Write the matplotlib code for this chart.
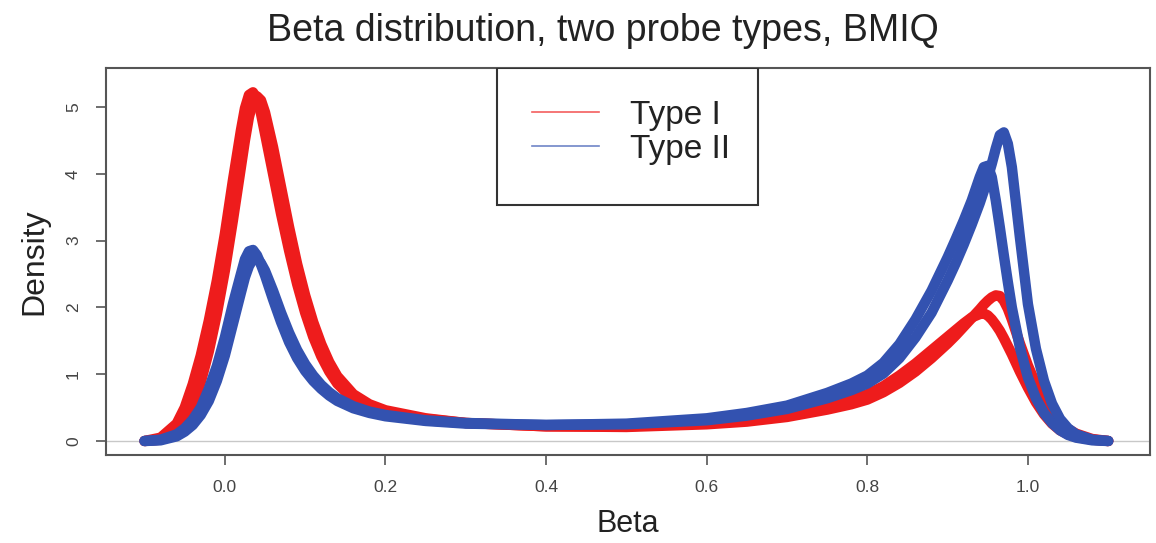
import matplotlib
matplotlib.use("Agg")
import matplotlib.pyplot as plt
from matplotlib.lines import Line2D
from matplotlib.patches import Rectangle

plt.rcParams['font.family'] = ['Liberation Sans', 'DejaVu Sans']

# ---- data ----
beta_grid = [-0.10, -0.08, -0.06, -0.05, -0.04, -0.03, -0.02, -0.01, 0.00, 0.01,
             0.02, 0.025, 0.03, 0.035, 0.04, 0.045, 0.05, 0.06, 0.07, 0.08,
             0.09, 0.10, 0.11, 0.12, 0.13, 0.14, 0.16, 0.18, 0.20, 0.25,
             0.30, 0.40, 0.50, 0.60, 0.65, 0.70, 0.75, 0.78, 0.80, 0.82,
             0.84, 0.86, 0.88, 0.90, 0.91, 0.92, 0.93, 0.94, 0.945, 0.95,
             0.955, 0.96, 0.965, 0.97, 0.975, 0.98, 0.99, 1.00, 1.01, 1.02,
             1.03, 1.04, 1.05, 1.06, 1.08, 1.10]

# Type I (red) - two groups of samples
type1_group_a = [0.0, 0.05, 0.26, 0.50, 0.85, 1.28, 1.80, 2.40, 3.10, 3.90,
                 4.65, 4.98, 5.18, 5.22, 5.12, 4.90, 4.60, 4.00, 3.40, 2.85,
                 2.35, 1.92, 1.56, 1.27, 1.04, 0.86, 0.62, 0.50, 0.43, 0.33,
                 0.27, 0.22, 0.22, 0.27, 0.32, 0.40, 0.52, 0.62, 0.70, 0.82,
                 0.98, 1.16, 1.36, 1.56, 1.66, 1.76, 1.85, 1.90, 1.91, 1.88,
                 1.82, 1.74, 1.65, 1.54, 1.42, 1.30, 1.04, 0.80, 0.58, 0.40,
                 0.26, 0.16, 0.10, 0.06, 0.02, 0.0]
type1_group_b = [0.0, 0.02, 0.12, 0.26, 0.52, 0.88, 1.34, 1.90, 2.55, 3.30,
                 4.10, 4.50, 4.85, 5.08, 5.16, 5.10, 4.92, 4.40, 3.80, 3.20,
                 2.65, 2.18, 1.78, 1.45, 1.18, 0.97, 0.70, 0.55, 0.46, 0.34,
                 0.27, 0.22, 0.21, 0.25, 0.29, 0.36, 0.47, 0.55, 0.62, 0.73,
                 0.87, 1.04, 1.24, 1.46, 1.58, 1.71, 1.84, 1.97, 2.04, 2.10,
                 2.15, 2.18, 2.17, 2.10, 1.98, 1.82, 1.46, 1.13, 0.85, 0.61,
                 0.42, 0.28, 0.18, 0.11, 0.03, 0.0]

# Type II (blue) - two groups of samples
type2_group_a = [0.0, 0.02, 0.10, 0.19, 0.32, 0.50, 0.78, 1.12, 1.55, 2.05,
                 2.50, 2.72, 2.84, 2.86, 2.78, 2.64, 2.48, 2.12, 1.78, 1.48,
                 1.24, 1.05, 0.90, 0.78, 0.68, 0.60, 0.49, 0.42, 0.37, 0.30,
                 0.26, 0.24, 0.26, 0.34, 0.42, 0.53, 0.72, 0.86, 0.98, 1.17,
                 1.45, 1.82, 2.25, 2.75, 3.02, 3.30, 3.60, 3.95, 4.10, 4.12,
                 3.95, 3.60, 3.20, 2.78, 2.38, 2.00, 1.40, 0.95, 0.64, 0.42,
                 0.27, 0.16, 0.09, 0.05, 0.01, 0.0]
type2_group_b = [0.0, 0.01, 0.07, 0.14, 0.24, 0.39, 0.60, 0.90, 1.28, 1.75,
                 2.22, 2.45, 2.62, 2.72, 2.74, 2.66, 2.55, 2.25, 1.92, 1.62,
                 1.36, 1.15, 0.98, 0.84, 0.73, 0.64, 0.52, 0.44, 0.39, 0.31,
                 0.27, 0.24, 0.25, 0.31, 0.38, 0.48, 0.64, 0.76, 0.86, 1.01,
                 1.24, 1.55, 1.92, 2.40, 2.66, 2.94, 3.24, 3.56, 3.74, 3.94,
                 4.15, 4.38, 4.58, 4.62, 4.45, 4.10, 3.05, 2.05, 1.38, 0.90,
                 0.56, 0.33, 0.19, 0.10, 0.02, 0.0]

series_labels = ["Type I", "Type II"]
x_ticks = [0.0, 0.2, 0.4, 0.6, 0.8, 1.0]
x_tick_labels = ["0.0", "0.2", "0.4", "0.6", "0.8", "1.0"]
y_ticks = [0, 1, 2, 3, 4, 5]

RED = "#ee1c1c"
BLUE = "#3352b0"

fig = plt.figure(figsize=(11.56, 5.43), dpi=100)
ax = fig.add_axes([0.0917, 0.162, 0.9031, 0.7128])

# zero line
ax.axhline(0, color="#c8c8c8", lw=1.0, zorder=1)

band_lw = 7.5
for ys in (type1_group_a, type1_group_b):
    ax.plot(beta_grid, ys, color=RED, lw=band_lw, solid_joinstyle="round",
            solid_capstyle="round", zorder=2)
for ys in (type2_group_a, type2_group_b):
    ax.plot(beta_grid, ys, color=BLUE, lw=band_lw, solid_joinstyle="round",
            solid_capstyle="round", zorder=3)

ax.set_xlim(-0.148, 1.152)
ax.set_ylim(-0.21, 5.584)

ax.set_xticks(x_ticks)
ax.set_xticklabels(x_tick_labels)
ax.set_yticks(y_ticks)
ax.set_yticklabels([str(v) for v in y_ticks], rotation=90, va="center")
ax.tick_params(axis="both", direction="out", length=7, width=1.2,
               color="#555555", labelsize=12.5, labelcolor="#444444", pad=11)

for s in ax.spines.values():
    s.set_color("#555555")
    s.set_linewidth(1.5)

fig.text(603 / 1156, 1 - 31 / 543, "Beta distribution, two probe types, BMIQ",
         fontsize=27, ha="center", va="center", color="#222222")
ax.set_xlabel("Beta", fontsize=22, labelpad=10, color="#222222")
ax.set_ylabel("Density", fontsize=23, labelpad=12, color="#222222")

# legend box (R-style, anchored at top of the plot region)
ax.add_patch(Rectangle((0.3745, 0.646), 0.25, 0.354, transform=ax.transAxes,
                       fill=True, facecolor="white", edgecolor="#333333",
                       lw=1.5, zorder=5))
handles = [Line2D([0], [0], color=RED, lw=1.2, alpha=0.7),
           Line2D([0], [0], color=BLUE, lw=1.2, alpha=0.7)]
leg = ax.legend(handles, series_labels, loc="upper center",
                bbox_to_anchor=(0.503, 1.0), fontsize=24, frameon=False,
                borderpad=0.95, labelspacing=0.1,
                handlelength=2.0, handletextpad=0.95, borderaxespad=0.0)
leg.set_zorder(6)
for t in leg.get_texts():
    t.set_color("#222222")

fig.savefig("out.png", dpi=100)
